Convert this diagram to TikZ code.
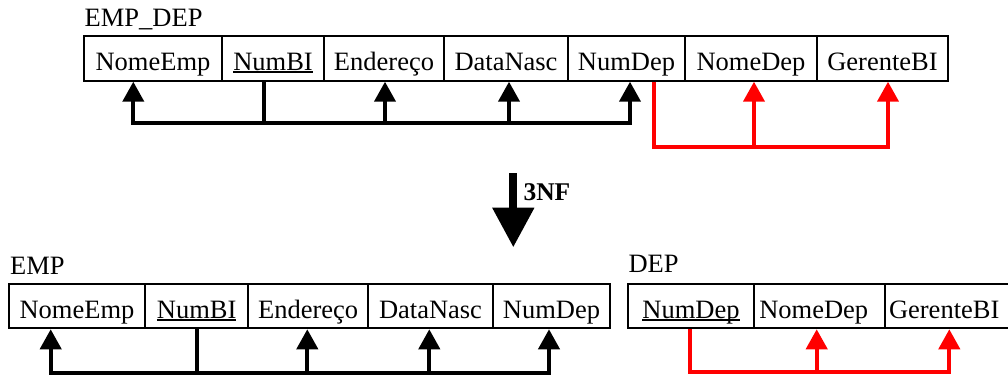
\documentclass[tikz,border=0pt]{standalone}
\usepackage{fontspec}
\setmainfont{Liberation Serif}
\usetikzlibrary{arrows.meta}

% key attributes: underline at a fixed distance below the baseline
\newlength\keylen
\newcommand\keyattr[1]{\settowidth\keylen{#1}\rlap{\rule[-2.4pt]{\keylen}{1.6pt}}#1}

\begin{document}
\begin{tikzpicture}[x=1pt,y=-1pt,
  attrfont/.style={font=\fontsize{26.5pt}{30pt}\selectfont},
  cell/.style={draw, line width=2pt, inner sep=0pt, minimum height=44.7pt,
    text height=24.6pt, text depth=0.2pt, attrfont},
  lcell/.style={cell, minimum width=0pt, align=left},
  relname/.style={inner sep=0pt, anchor=base west, attrfont},
  depline/.style={line width=4pt, line join=miter},
  fdepline/.style={depline, draw=red},
  tipend/.style={-{Triangle[width=21pt,length=20pt]}},
  tipboth/.style={{Triangle[width=21pt,length=20pt]}-{Triangle[width=21pt,length=20pt]}},
]
\useasboundingbox (0,0) rectangle (1008,383);
\clip (0,0) rectangle (1008,383);

% ---------- EMP_DEP ----------
\node[relname] (lEmpDep) at (84.5,26.7) {EMP\_DEP};
\node[cell, minimum width=138pt] (t1) at (153,58.35)   {NomeEmp};
\node[cell, minimum width=102pt] (t2) at (273,58.35)   {\keyattr{NumBI}};
\node[cell, minimum width=120pt] (t3) at (384,58.35)   {Endereço};
\node[cell, minimum width=124pt] (t4) at (506,58.35)   {DataNasc};
\node[cell, minimum width=117pt] (t5) at (626.5,58.35) {NumDep};
\node[cell, minimum width=132pt] (t6) at (751,58.35)   {NomeDep};
\node[cell, minimum width=131pt] (t7) at (882.5,58.35) {GerenteBI};

\coordinate (busK) at (0,123.3);
\coordinate (busR) at (0,147.3);
\coordinate (ta1) at ([xshift=-19.7pt]t1.south);
\coordinate (ta2) at ([xshift=-9pt]t2.south);
\coordinate (ta3) at ([xshift=1pt]t3.south);
\coordinate (ta4) at ([xshift=3pt]t4.south);
\coordinate (ta5) at ([xshift=3.5pt]t5.south);
\coordinate (tr5) at ([xshift=27.5pt]t5.south);
\coordinate (tr6) at ([xshift=3pt]t6.south);
\coordinate (tr7) at ([xshift=5.5pt]t7.south);

\draw[depline, tipboth] (ta1) -- (ta1 |- busK) -- (ta5 |- busK) -- (ta5);
\draw[depline] (ta2) -- (ta2 |- busK);
\draw[depline, tipend] (ta3 |- busK) -- (ta3);
\draw[depline, tipend] (ta4 |- busK) -- (ta4);

\draw[fdepline, tipend] (tr5) -- (tr5 |- busR) -- (tr7 |- busR) -- (tr7);
\draw[fdepline, tipend] (tr6 |- busR) -- (tr6);

% ---------- normalisation step ----------
\coordinate (nfTop) at (513.3,173.3);
\coordinate (nfTip) at (513.3,247.3);
\draw[line width=8pt, -{Triangle[width=40pt,length=39.6pt]}] (nfTop) -- (nfTip);
\node[inner sep=0pt, anchor=base west, font=\bfseries\fontsize{25.5pt}{30pt}\selectfont]
  (nf) at (523.3,200) {3NF};

% ---------- EMP ----------
\node[relname] (lEmp) at (10,274) {EMP};
\node[cell, minimum width=136pt]   (e1) at (77,305.9)     {NomeEmp};
\node[cell, minimum width=103.3pt] (e2) at (196.65,305.9) {\keyattr{NumBI}};
\node[cell, minimum width=119.7pt] (e3) at (308.15,305.9) {Endereço};
\node[cell, minimum width=125pt]   (e4) at (430.5,305.9)  {DataNasc};
\node[cell, minimum width=117pt]   (e5) at (551.5,305.9)  {NumDep};

\coordinate (busE) at (0,372.5);
\coordinate (ea1) at ([xshift=-26.3pt]e1.south);
\coordinate (ea2) at ([xshift=0.65pt]e2.south);
\coordinate (ea3) at ([xshift=-0.85pt]e3.south);
\coordinate (ea4) at ([xshift=-1.2pt]e4.south);
\coordinate (ea5) at ([xshift=-2.5pt]e5.south);

\draw[depline, tipboth] (ea1) -- (ea1 |- busE) -- (ea5 |- busE) -- (ea5);
\draw[depline] (ea2) -- (ea2 |- busE);
\draw[depline, tipend] (ea3 |- busE) -- (ea3);
\draw[depline, tipend] (ea4 |- busE) -- (ea4);

% ---------- DEP ----------
\node[relname] (lDep) at (628.3,272.7) {DEP};
\node[cell, minimum width=126pt] (d1) at (691,305.9) {\keyattr{NumDep}};
\node[lcell, text width=120.4pt, inner xsep=5.3pt] (d2) at (819.5,305.9) {NomeDep};
\node[lcell, text width=118pt, inner xsep=4pt]     (d3) at (948,305.9)   {GerenteBI};

\coordinate (busD) at (0,372.3);
\coordinate (dr1) at ([xshift=-1.5pt]d1.south);
\coordinate (dr2) at ([xshift=-2.8pt]d2.south);
\coordinate (dr3) at ([xshift=1.3pt]d3.south);

\draw[fdepline, tipend] (dr1) -- (dr1 |- busD) -- (dr3 |- busD) -- (dr3);
\draw[fdepline, tipend] (dr2 |- busD) -- (dr2);
\end{tikzpicture}
\end{document}
